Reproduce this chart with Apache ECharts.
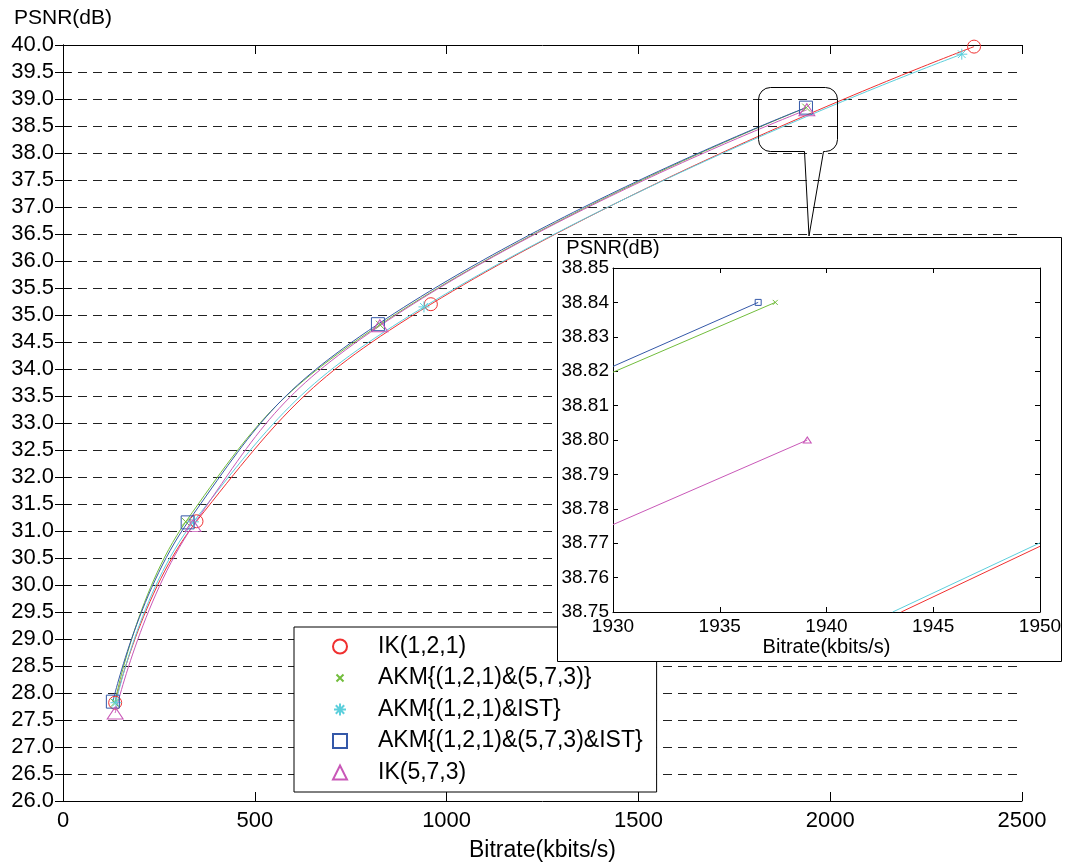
<!DOCTYPE html>
<html>
<head>
<meta charset="utf-8">
<script src="https://cdn.jsdelivr.net/npm/echarts@6/dist/echarts.min.js"></script>
<style>
html,body{margin:0;padding:0;background:#fff}
#chart{width:1066px;height:867px}
</style>
</head>
<body>
<div id="chart"></div>
<script>
// legend names
const names = ['IK(1,2,1)', 'AKM{(1,2,1)&(5,7,3)}', 'AKM{(1,2,1)&IST}', 'AKM{(1,2,1)&(5,7,3)&IST}', 'IK(5,7,3)']
const colors = ['#f03030', '#72bd3c', '#5ccfdc', '#3458a8', '#c958b8']

// main chart: [bitrate kbits/s, PSNR dB]
const ik121 = [[136, 27.82], [348, 31.18], [959, 35.20], [2375, 39.97]]
const akm573 = [[135, 27.82], [320, 31.17], [826, 34.82], [1937.6, 38.84]]
const akmIst = [[138, 27.82], [340, 31.17], [941, 35.15], [2343, 39.83]]
const akmAll = [[130, 27.84], [325, 31.16], [821, 34.83], [1936.8, 38.84]]
const ik573 = [[136, 27.63], [339, 31.10], [826, 34.80], [1939.1, 38.80]]

// zoomed inset (where the lines cross the inset frame, and end points)
const zIk121 = [[1943.5, 38.75], [1950, 38.7691]]
const zAkm573 = [[1930, 38.8197], [1937.6, 38.84]]
const zAkmIst = [[1943.1, 38.75], [1950, 38.7701]]
const zAkmAll = [[1930, 38.8214], [1936.8, 38.84]]
const zIk573 = [[1930, 38.7754], [1939.1, 38.80]]

const xPath = 'path://M0,0L10,10M10,0L0,10'
const starPath = 'path://M5,0L5,10M0,5L10,5M1.5,1.5L8.5,8.5M8.5,1.5L1.5,8.5'
// legend versions: invisible corner points keep the glyph smaller inside the icon box
const xIcon = 'path://M0,0L0,0M14,14L14,14M3.5,3.5L10.5,10.5M10.5,3.5L3.5,10.5'
const starIcon = 'path://M0,0L0,0M14,14L14,14M7,1L7,13M1,7L13,7M2.8,2.8L11.2,11.2M11.2,2.8L2.8,11.2'
const symbols = ['circle', xPath, starPath, 'rect', 'triangle']
const legendIcons = ['circle', xIcon, starIcon, 'rect', 'triangle']
const mainSizes = [13, 8, 11, 13, [16, 12]]
const zoomSizes = [6, 5, 6, 6, [8, 6]]

const font = 'Liberation Sans, Arial, sans-serif'

const chart = echarts.init(document.getElementById('chart'))

const mainData = [ik121, akm573, akmIst, akmAll, ik573]
const zoomData = [zIk121, zAkm573, zAkmIst, zAkmAll, zIk573]

const series = []
mainData.forEach((d, i) => {
  series.push({
    name: names[i], type: 'line', xAxisIndex: 0, yAxisIndex: 0,
    data: d, smooth: 0.45,
    symbol: symbols[i], symbolSize: mainSizes[i], showSymbol: true,
    lineStyle: {color: colors[i], width: 1},
    itemStyle: {color: 'transparent', borderColor: colors[i], borderWidth: 1},
    emphasis: {disabled: true}, z: 2
  })
})
zoomData.forEach((d, i) => {
  const pts = d.map((p, k) => {
    // markers only where the series really ends inside the inset
    const endsHere = k === d.length - 1 && p[0] < 1950
    return endsHere ? p : {value: p, symbol: 'none'}
  })
  series.push({
    name: names[i], type: 'line', xAxisIndex: 2, yAxisIndex: 2,
    data: pts, symbol: symbols[i], symbolSize: zoomSizes[i],
    lineStyle: {color: colors[i], width: 1},
    itemStyle: {color: 'transparent', borderColor: colors[i], borderWidth: 1},
    emphasis: {disabled: true}, z: 8, clip: true
  })
})

const tickStyle = {color: '#000', width: 1}
const plain = v => String(v)

const option = {
  backgroundColor: '#fff',
  animation: false,
  textStyle: {fontFamily: font},
  grid: [
    {left: 63, top: 45, width: 959, height: 761},
    {left: 613, top: 268, width: 427, height: 344}
  ],
  xAxis: [
    {
      type: 'value', gridIndex: 0, min: 0, max: 2500, interval: 500,
      name: 'Bitrate(kbits/s)', nameLocation: 'middle', nameGap: 38,
      nameTextStyle: {fontSize: 23, color: '#000', fontFamily: font},
      axisLine: {show: true, lineStyle: tickStyle},
      axisTick: {show: true, inside: true, length: 9, lineStyle: tickStyle},
      axisLabel: {fontSize: 22, color: '#000', margin: 9, fontFamily: font, formatter: plain},
      splitLine: {show: false}
    },
    {
      type: 'value', gridIndex: 0, position: 'top', min: 0, max: 2500, interval: 500,
      axisLine: {show: true, lineStyle: tickStyle},
      axisTick: {show: true, inside: true, length: 9, lineStyle: tickStyle},
      axisLabel: {show: false}, splitLine: {show: false}
    },
    {
      type: 'value', gridIndex: 1, min: 1930, max: 1950, interval: 5,
      name: 'Bitrate(kbits/s)', nameLocation: 'middle', nameGap: 25,
      nameTextStyle: {fontSize: 20, color: '#000', fontFamily: font},
      axisLine: {show: true, lineStyle: tickStyle},
      axisTick: {show: true, inside: true, length: 5, lineStyle: tickStyle},
      axisLabel: {fontSize: 19, color: '#000', margin: 5, fontFamily: font, formatter: plain},
      splitLine: {show: false}, z: 6
    },
    {
      type: 'value', gridIndex: 1, position: 'top', min: 1930, max: 1950, interval: 5,
      axisLine: {show: true, lineStyle: tickStyle},
      axisTick: {show: true, inside: true, length: 5, lineStyle: tickStyle},
      axisLabel: {show: false}, splitLine: {show: false}, z: 6
    }
  ],
  yAxis: [
    {
      type: 'value', gridIndex: 0, min: 26, max: 40, interval: 0.5,
      name: 'PSNR(dB)', nameLocation: 'end', nameGap: 16,
      nameTextStyle: {fontSize: 21, color: '#000', align: 'center', fontFamily: font},
      axisLine: {show: true, lineStyle: tickStyle},
      axisTick: {show: true, inside: true, length: 8, lineStyle: tickStyle},
      axisLabel: {fontSize: 22, color: '#000', margin: 9, fontFamily: font,
        formatter: v => v.toFixed(1)},
      splitLine: {show: true, lineStyle: {color: '#222', width: 1, type: [9, 6]}}
    },
    {
      type: 'value', gridIndex: 0, position: 'right', min: 26, max: 40, interval: 0.5,
      axisLine: {show: true, lineStyle: tickStyle},
      axisTick: {show: true, inside: true, length: 8, lineStyle: tickStyle},
      axisLabel: {show: false}, splitLine: {show: false}
    },
    {
      type: 'value', gridIndex: 1, min: 38.75, max: 38.85, interval: 0.01,
      name: 'PSNR(dB)', nameLocation: 'end', nameGap: 8,
      nameTextStyle: {fontSize: 20, color: '#000', align: 'center', fontFamily: font},
      axisLine: {show: true, lineStyle: tickStyle},
      axisTick: {show: true, inside: true, length: 5, lineStyle: tickStyle},
      axisLabel: {fontSize: 19, color: '#000', margin: 4, fontFamily: font,
        formatter: v => v.toFixed(2)},
      splitLine: {show: false}, z: 6
    },
    {
      type: 'value', gridIndex: 1, position: 'right', min: 38.75, max: 38.85, interval: 0.01,
      axisLine: {show: true, lineStyle: tickStyle},
      axisTick: {show: true, inside: true, length: 5, lineStyle: tickStyle},
      axisLabel: {show: false}, splitLine: {show: false}, z: 6
    }
  ],
  legend: {
    orient: 'vertical', left: 294, top: 627,
    padding: [8, 14, 8, 38], itemGap: 8.5,
    itemWidth: 14, itemHeight: 14,
    backgroundColor: '#fff', borderColor: '#000', borderWidth: 1,
    textStyle: {fontSize: 23, color: '#000', fontFamily: font, padding: [0, 0, 0, 26]},
    data: names.map((n, i) => ({name: n, icon: legendIcons[i]})),
    selectedMode: false, z: 4
  },
  graphic: [
    {
      type: 'rect', z: 5, silent: true,
      shape: {x: 557.5, y: 237.5, width: 504, height: 424},
      style: {fill: '#fff', stroke: '#000', lineWidth: 1}
    },
    // callout balloon around the zoomed region
    {
      type: 'rect', z: 3, silent: true,
      shape: {x: 758.5, y: 87.5, width: 79, height: 64, r: 12},
      style: {fill: 'none', stroke: '#000', lineWidth: 1}
    },
    {
      type: 'line', z: 3, silent: true,
      shape: {x1: 804.5, y1: 151.5, x2: 823.5, y2: 151.5},
      style: {stroke: '#fff', lineWidth: 2}
    },
    {
      type: 'polyline', z: 3, silent: true,
      shape: {points: [[804.5, 151.5], [809, 236], [823.5, 151.5]]},
      style: {fill: 'none', stroke: '#000', lineWidth: 1}
    }
  ],
  series: series
}

chart.setOption(option)
</script>
</body>
</html>
